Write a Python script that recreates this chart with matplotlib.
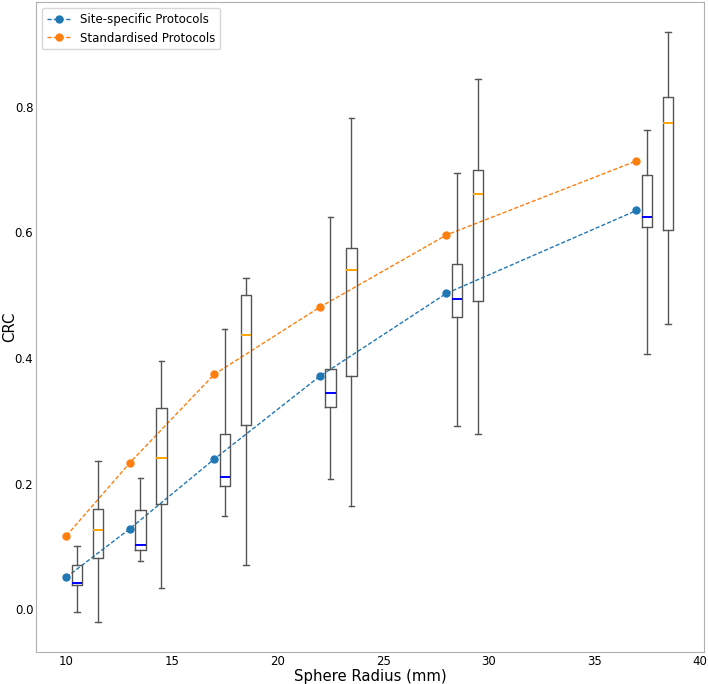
import numpy as np
import matplotlib
matplotlib.use('Agg')
import matplotlib.pyplot as plt

# sphere radii (mm) and mean CRC per protocol group
radii = [10, 13, 17, 22, 28, 37]
crc_site = [0.051, 0.128, 0.239, 0.371, 0.503, 0.635]
crc_std = [0.117, 0.233, 0.374, 0.481, 0.596, 0.714]

# box summaries: lower whisker, Q1, median, Q3, upper whisker
site_whislo = [-0.004, 0.076, 0.149, 0.208, 0.292, 0.406]
site_q1 = [0.038, 0.094, 0.196, 0.322, 0.465, 0.608]
site_med = [0.041, 0.102, 0.210, 0.345, 0.494, 0.625]
site_q3 = [0.071, 0.158, 0.279, 0.382, 0.549, 0.691]
site_whishi = [0.100, 0.209, 0.447, 0.624, 0.694, 0.763]

std_whislo = [-0.021, 0.033, 0.071, 0.165, 0.279, 0.454]
std_q1 = [0.081, 0.168, 0.293, 0.371, 0.491, 0.604]
std_med = [0.126, 0.241, 0.437, 0.541, 0.662, 0.775]
std_q3 = [0.159, 0.321, 0.500, 0.575, 0.700, 0.816]
std_whishi = [0.236, 0.395, 0.527, 0.782, 0.845, 0.920]


def make_stats(lo, q1, med, q3, hi):
	stats = []
	for i in range(len(lo)):
		stats.append({'whislo': lo[i], 'q1': q1[i], 'med': med[i], 'q3': q3[i],
			'whishi': hi[i], 'fliers': []})
	return stats


plt.rcParams.update({'font.size': 8.5})
fig = plt.figure(figsize=(7.08, 6.84), dpi=100)
ax = fig.add_axes([0.051, 0.047, 0.943, 0.950])

ax.plot(radii, crc_site, '--o', color='tab:blue', linewidth=1, markersize=5,
	dashes=(3, 1.5), label='Site-specific Protocols')
ax.plot(radii, crc_std, '--o', color='tab:orange', linewidth=1, markersize=5,
	dashes=(3, 1.5), label='Standardised Protocols')

grey = '#555555'
box_kw = dict(widths=0.5, manage_ticks=False,
	boxprops=dict(color=grey, linewidth=1.0),
	whiskerprops=dict(color=grey, linewidth=1.0),
	capprops=dict(color=grey, linewidth=1.0))

ax.bxp(make_stats(site_whislo, site_q1, site_med, site_q3, site_whishi),
	positions=[r + 0.5 for r in radii],
	medianprops=dict(color='blue', linewidth=1.4), **box_kw)
ax.bxp(make_stats(std_whislo, std_q1, std_med, std_q3, std_whishi),
	positions=[r + 1.5 for r in radii],
	medianprops=dict(color='orange', linewidth=1.4), **box_kw)

ax.set_xlim(8.5625, 40.1875)
ax.set_ylim(-0.068, 0.967)
ax.set_xticks([10, 15, 20, 25, 30, 35, 40])
ax.set_yticks([0.0, 0.2, 0.4, 0.6, 0.8])
ax.tick_params(length=0, pad=2, labelsize=8.5)

ax.set_xlabel('Sphere Radius (mm)', fontsize=10.7, labelpad=1)
ax.set_ylabel('CRC', fontsize=10.7)
ax.yaxis.set_label_coords(-0.028, 0.5)

for s in ax.spines.values():
	s.set_color('#b0b0b0')

ax.legend(loc='upper left', fontsize=8.5)

plt.savefig('out.png', dpi=100)
